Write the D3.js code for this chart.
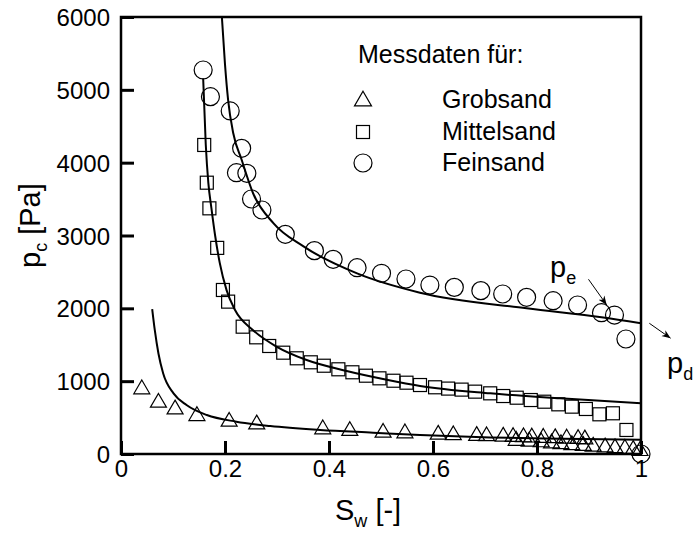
<!DOCTYPE html>
<html>
<head>
<meta charset="utf-8">
<script src="https://cdn.jsdelivr.net/npm/d3@7"></script>
<style>
  html, body { margin: 0; padding: 0; background: #fff; }
  svg { display: block; font-family: "Liberation Sans", Arial, Helvetica, sans-serif; }
</style>
</head>
<body>
<svg id="chart" width="693" height="534"></svg>
<script>
// ---------- data ----------
const xTicks = [0, 0.2, 0.4, 0.6, 0.8, 1];
const xTickLabels = ["0", "0.2", "0.4", "0.6", "0.8", "1"];
const yTicks = [0, 1000, 2000, 3000, 4000, 5000, 6000];
const yTickLabels = ["0", "1000", "2000", "3000", "4000", "5000", "6000"];

const seriesNames = ["Grobsand", "Mittelsand", "Feinsand"];
const legendTitle = "Messdaten für:";

// Grobsand (triangles)
const grobS = [0.040, 0.072, 0.104, 0.146, 0.208, 0.261, 0.388, 0.440, 0.504, 0.546, 0.610, 0.639, 0.684, 0.703, 0.735, 0.754, 0.774, 0.790, 0.812, 0.835, 0.857, 0.879, 0.892,
               0.760, 0.785, 0.808, 0.828, 0.846, 0.867, 0.889, 0.908, 0.931, 0.950, 0.969, 0.985, 0.998];
const grobP = [902, 718, 627, 535, 457, 421, 353, 330, 306, 298, 280, 272, 262, 258, 252, 248, 244, 240, 236, 232, 226, 220, 215,
               195, 185, 175, 160, 150, 135, 125, 115, 105, 95, 85, 70, 55];

// Mittelsand (squares)
const mittS = [0.160, 0.165, 0.170, 0.185, 0.196, 0.206, 0.234, 0.260, 0.285, 0.312, 0.338, 0.365, 0.390, 0.418, 0.445, 0.471, 0.497, 0.524, 0.549, 0.575, 0.604, 0.629, 0.655, 0.681, 0.710, 0.735, 0.761, 0.788, 0.814, 0.841, 0.867, 0.894, 0.920, 0.946, 0.972];
const mittP = [4243, 3725, 3373, 2830, 2252, 2092, 1748, 1602, 1483, 1391, 1314, 1259, 1212, 1163, 1122, 1075, 1039, 1006, 979, 947, 916, 898, 884, 856, 833, 796, 773, 741, 718, 682, 650, 618, 545, 559, 330];

// Feinsand (circles)
const feinS = [0.158, 0.172, 0.210, 0.232, 0.222, 0.242, 0.251, 0.271, 0.316, 0.372, 0.408, 0.454, 0.501, 0.548, 0.594, 0.641, 0.692, 0.734, 0.780, 0.831, 0.878, 0.924, 0.949, 0.971, 1.000];
const feinP = [5272, 4906, 4710, 4197, 3862, 3854, 3501, 3350, 3016, 2792, 2673, 2558, 2481, 2403, 2320, 2288, 2243, 2197, 2151, 2105, 2046, 1940, 1908, 1579, 0];

// fitted curves
const grobCurveS = [0.060, 0.065, 0.072, 0.081, 0.101, 0.126, 0.165, 0.222, 0.287, 0.383, 0.485, 0.575, 0.710, 0.850, 1.000];
const grobCurveP = [1990, 1700, 1380, 1110, 833, 673, 535, 444, 384, 330, 293, 261, 228, 210, 197];
const mittCurveS = [0.158, 0.163, 0.168, 0.174, 0.181, 0.190, 0.203, 0.219, 0.254, 0.299, 0.357, 0.434, 0.511, 0.575, 0.710, 0.844, 1.000];
const mittCurveP = [5160, 4250, 3720, 3370, 3000, 2620, 2250, 1980, 1700, 1475, 1290, 1140, 1020, 935, 833, 764, 696];
const feinCurveS = [0.194, 0.200, 0.206, 0.216, 0.232, 0.254, 0.293, 0.351, 0.454, 0.575, 0.780, 0.924, 1.000];
const feinCurveP = [6000, 5350, 4860, 4400, 4040, 3580, 3170, 2850, 2480, 2215, 2000, 1877, 1794];

// annotations (data coordinates)
const annLabels = [{t: "p", sub: "e", s: 0.825, p: 2430}, {t: "p", sub: "d", s: 1.050, p: 1112}];
const annArrows = [{s1: 0.899, p1: 2399, s2: 0.934, p2: 2047}, {s1: 1.016, p1: 1795, s2: 1.057, p2: 1589}];

// ---------- drawing ----------
const svg = d3.select("#chart");
const L = 121, R = 641, T = 17, B = 454;
const x = d3.scaleLinear().domain([0, 1]).range([L, R]);
const y = d3.scaleLinear().domain([0, 6000]).range([B, T]);

svg.append("defs").append("marker")
  .attr("id", "arr").attr("viewBox", "0 0 10 10").attr("refX", 10).attr("refY", 5)
  .attr("markerWidth", 9).attr("markerHeight", 9).attr("markerUnits", "userSpaceOnUse")
  .attr("orient", "auto")
  .append("path").attr("d", "M0,1 L10,5 L0,9 L3,5 Z").attr("fill", "#000");

svg.append("clipPath").attr("id", "clip").append("rect")
  .attr("x", L).attr("y", T).attr("width", R - L).attr("height", B - T);

// curves
const line = d3.line().x(d => x(d[0])).y(d => y(d[1])).curve(d3.curveMonotoneX);
const curves = [
  d3.zip(grobCurveS, grobCurveP),
  d3.zip(mittCurveS, mittCurveP),
  d3.zip(feinCurveS, feinCurveP)
];
svg.append("g").attr("clip-path", "url(#clip)").selectAll("path.curve").data(curves).join("path")
  .attr("class", "curve").attr("d", line)
  .attr("fill", "none").attr("stroke", "#000").attr("stroke-width", 2);

// markers
const mk = { stroke: "#000", sw: 1.2 };
function triPath(cx, cy, w) {
  const h = w * 0.86;
  return `M${cx},${cy - h * 0.6} L${cx + w / 2},${cy + h * 0.4} L${cx - w / 2},${cy + h * 0.4} Z`;
}
const gM = svg.append("g");
gM.selectAll("path.tri").data(d3.zip(grobS, grobP)).join("path")
  .attr("class", "tri").attr("d", d => triPath(x(d[0]), y(d[1]), 16))
  .attr("fill", "none").attr("stroke", mk.stroke).attr("stroke-width", mk.sw);
gM.selectAll("rect.sq").data(d3.zip(mittS, mittP)).join("rect")
  .attr("class", "sq").attr("x", d => x(d[0]) - 6.5).attr("y", d => y(d[1]) - 6.5)
  .attr("width", 13).attr("height", 13)
  .attr("fill", "none").attr("stroke", mk.stroke).attr("stroke-width", mk.sw);
gM.selectAll("circle.ci").data(d3.zip(feinS, feinP)).join("circle")
  .attr("class", "ci").attr("cx", d => x(d[0])).attr("cy", d => y(d[1])).attr("r", 9)
  .attr("fill", "none").attr("stroke", mk.stroke).attr("stroke-width", mk.sw);

// frame
svg.append("rect").attr("x", L).attr("y", T).attr("width", R - L).attr("height", B - T)
  .attr("fill", "none").attr("stroke", "#000").attr("stroke-width", 2.5);

// axes
const xAxis = d3.axisBottom(x).tickValues(xTicks).tickSize(-13).tickPadding(6)
  .tickFormat((d, i) => xTickLabels[i]);
const gx = svg.append("g").attr("transform", `translate(0,${B})`).call(xAxis);
gx.select(".domain").remove();
gx.selectAll(".tick line").attr("stroke-width", 3);
gx.selectAll(".tick text").attr("font-size", 24).attr("fill", "#000")
  .attr("font-family", "Liberation Sans, Arial, sans-serif").attr("y", 23).attr("dy", 0);

const yAxis = d3.axisLeft(y).tickValues(yTicks).tickSize(-13).tickPadding(11)
  .tickFormat((d, i) => yTickLabels[i]);
const gy = svg.append("g").attr("transform", `translate(${L},0)`).call(yAxis);
gy.select(".domain").remove();
gy.selectAll(".tick line").attr("stroke-width", 3);
gy.selectAll(".tick text").attr("font-size", 24).attr("fill", "#000")
  .attr("font-family", "Liberation Sans, Arial, sans-serif").attr("dy", "0.36em");

// axis titles
const xt = svg.append("text").attr("x", 335).attr("y", 520).attr("font-size", 29);
xt.append("tspan").text("S");
xt.append("tspan").attr("font-size", 18).attr("dy", 7).text("w");
xt.append("tspan").attr("dy", -7).text(" [-]");

const yt = svg.append("text").attr("transform", "translate(40,268) rotate(-90)").attr("font-size", 29);
yt.append("tspan").text("p");
yt.append("tspan").attr("font-size", 18).attr("dy", 7).text("c");
yt.append("tspan").attr("dy", -7).text(" [Pa]");

// legend
svg.append("text").attr("x", 358).attr("y", 63).attr("font-size", 25).text(legendTitle);
const legY = [100, 132, 163];
seriesNames.forEach((n, i) => {
  svg.append("text").attr("x", 442).attr("y", legY[i] + 8).attr("font-size", 25).text(n);
});
svg.append("path").attr("d", triPath(363, legY[0], 17)).attr("fill", "none").attr("stroke", "#000").attr("stroke-width", mk.sw);
svg.append("rect").attr("x", 363 - 6.5).attr("y", legY[1] - 6.5).attr("width", 13).attr("height", 13)
  .attr("fill", "none").attr("stroke", "#000").attr("stroke-width", mk.sw);
svg.append("circle").attr("cx", 363).attr("cy", legY[2]).attr("r", 9)
  .attr("fill", "none").attr("stroke", "#000").attr("stroke-width", mk.sw);

// annotations
annLabels.forEach(a => {
  const t = svg.append("text").attr("x", x(a.s)).attr("y", y(a.p)).attr("font-size", 29);
  t.append("tspan").text(a.t);
  t.append("tspan").attr("font-size", 18).attr("dy", 7).text(a.sub);
});
annArrows.forEach(a => {
  svg.append("line").attr("x1", x(a.s1)).attr("y1", y(a.p1)).attr("x2", x(a.s2)).attr("y2", y(a.p2))
    .attr("stroke", "#000").attr("stroke-width", 1).attr("marker-end", "url(#arr)");
});
</script>
</body>
</html>
